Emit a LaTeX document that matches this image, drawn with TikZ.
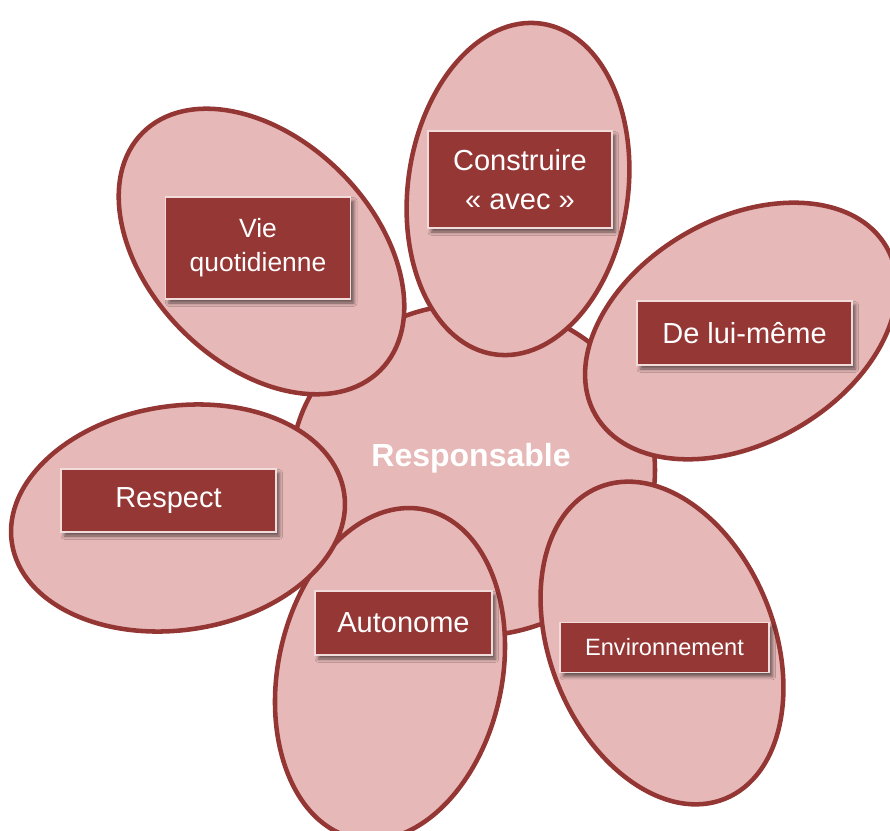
\documentclass[tikz,border=0pt]{standalone}
\usepackage{fontspec}
\setmainfont{Liberation Sans}
\usetikzlibrary{shadows.blur}
\definecolor{petalfill}{RGB}{230,184,183}
\definecolor{petalline}{RGB}{148,54,52}
\definecolor{boxfill}{RGB}{149,55,53}
\definecolor{boxline}{RGB}{242,220,219}
\begin{document}
\begin{tikzpicture}[x=0.75pt,y=-0.75pt,
  petal/.style={draw=petalline, line width=3.4pt, fill=petalfill},
  labelbox/.style={draw=boxline, line width=1.1pt, fill=boxfill, text=white, align=center, inner sep=0pt,
    blur shadow={shadow xshift=2.5pt, shadow yshift=-3pt, shadow blur radius=2.5pt, shadow opacity=55}},
  big/.style={font=\fontsize{21.75pt}{29pt}\selectfont},
]
\useasboundingbox (0,0) rectangle (890,831);
\clip (0,0) rectangle (890,831);
% centre
\draw[petal] (473,470) ellipse [x radius=182, y radius=166];
% petals
\draw[petal, rotate around={-8:(518,189)}] (518,189) ellipse [x radius=110, y radius=167];
\draw[petal, rotate around={-60:(741,331)}] (741,331) ellipse [x radius=112, y radius=168];
\draw[petal, rotate around={22:(662,643)}] (662,643) ellipse [x radius=112, y radius=168];
\draw[petal, rotate around={-12:(390,674)}] (390,674) ellipse [x radius=112, y radius=168];
\draw[petal, rotate around={-81.5:(178,518)}] (178,518) ellipse [x radius=112, y radius=168];
\draw[petal, rotate around={45:(261.5,251.5)}] (261.5,251.5) ellipse [x radius=112, y radius=168];
% labels
\node[text=white, font=\fontsize{24pt}{28pt}\selectfont\bfseries] (resp) at (471,458) {Responsable};
\node[labelbox, big, minimum width=138pt, minimum height=72.75pt] (constr) at (520,179.5) {Construire\\« avec »};
\node[labelbox, big, minimum width=161.25pt, minimum height=48pt] (lui) at (744.5,333) {De lui-même};
\node[labelbox, font=\fontsize{17.7pt}{21pt}\selectfont, minimum width=156.75pt, minimum height=37.5pt] (env) at (664.5,647.5) {Environnement};
\node[labelbox, big, minimum width=132.75pt, minimum height=48pt] (auto) at (403.5,623) {Autonome};
\node[labelbox, big, minimum width=161.25pt, minimum height=47.25pt] (respect) at (168.5,500.5) {Respect};
\node[labelbox, font=\fontsize{19.8pt}{25.5pt}\selectfont, minimum width=138.75pt, minimum height=76.5pt] (vie) at (258,248) {Vie\\quotidienne};
\end{tikzpicture}
\end{document}
